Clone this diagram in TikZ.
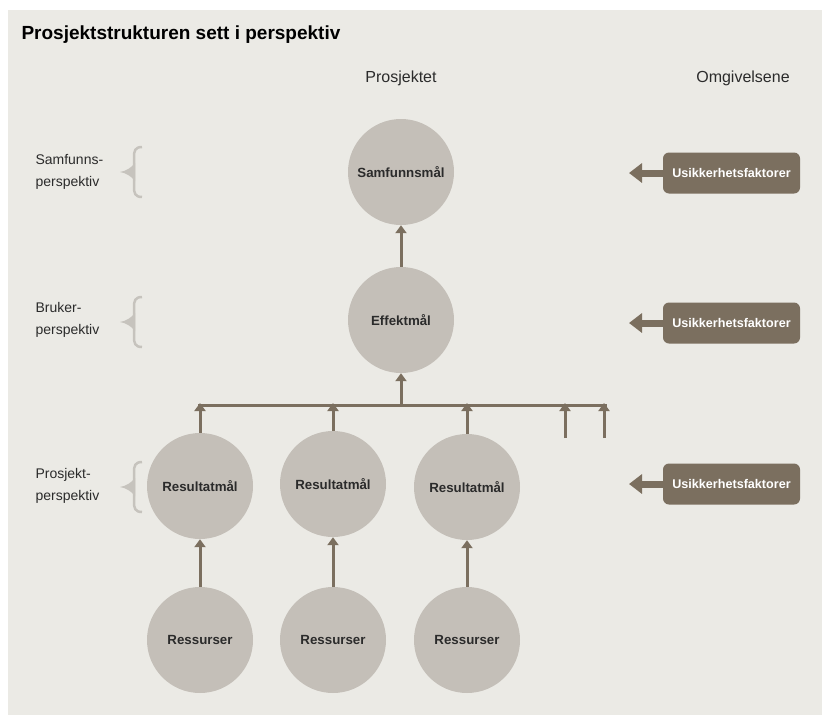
\documentclass[tikz,border=0pt]{standalone}
\usepackage{fontspec}
\setmainfont{Liberation Sans}
\usetikzlibrary{arrows.meta}
\definecolor{bg}{HTML}{EBEAE5}
\definecolor{disc}{HTML}{C4BFB8}
\definecolor{brn}{HTML}{7B6F5F}
\definecolor{brc}{HTML}{C6C3BD}
\definecolor{ink}{HTML}{2B2B2B}
\begin{document}
\begin{tikzpicture}[x=1pt,y=-1pt,
 goal/.style={circle,fill=disc,minimum size=106pt,inner sep=0pt,font=\fontsize{13.3}{15}\selectfont\bfseries,text=ink},
 risk/.style={rounded corners=6pt,fill=brn,minimum width=137pt,minimum height=41pt,font=\fontsize{12.6}{14}\selectfont\bfseries,text=white,inner sep=0pt},
 conn/.style={draw=brn,line width=3pt,-{Triangle[width=11pt,length=8pt]}},
 riskarrow/.style={draw=brn,line width=7pt,-{Triangle[width=19pt,length=13pt]}},
 persp/.style={align=left,anchor=west,font=\fontsize{14}{22}\selectfont,text=ink},
 bracestyle/.style={draw=brc,line width=2.5pt},
 head/.style={font=\fontsize{16}{18}\selectfont,text=ink}]
\useasboundingbox (0,0) rectangle (822,715);
\fill[white] (0,0) rectangle (822,715);
\fill[bg] (8,10) rectangle (822,715);

% titles
\node[anchor=west,font=\fontsize{19}{21}\selectfont\bfseries,text=black] (title) at (18,35) {Prosjektstrukturen sett i perspektiv};
\node[head] (hproj) at (401,78) {Prosjektet};
\node[head] (homg) at (743,78) {Omgivelsene};

% goals
\node[goal] (samf) at (401,172) {Samfunnsmål};
\node[goal] (eff) at (401,320) {Effektmål};
\node[goal] (r1) at (200,486) {Resultatmål};
\node[goal] (r2) at (333,484) {Resultatmål};
\node[goal] (r3) at (467,487) {Resultatmål};
\node[goal] (s1) at (200,640) {Ressurser};
\node[goal] (s2) at (333,640) {Ressurser};
\node[goal] (s3) at (467,640) {Ressurser};

% connectors
\draw[conn] (eff.north) -- (samf.south);
\coordinate (barL) at (198,405);
\coordinate (barR) at (607,405);
\draw[brn,line width=3pt] (barL) -- (barR);
\draw[conn] (eff |- barL) -- (eff.south);
\draw[conn] (r1.north) -- ([yshift=2pt]r1 |- barL);
\draw[conn] (r2.north) -- ([yshift=2pt]r2 |- barL);
\draw[conn] (r3.north) -- ([yshift=2pt]r3 |- barL);
\coordinate (x1) at (565,438);
\coordinate (x2) at (604,438);
\draw[conn] (x1) -- ([yshift=2pt]x1 |- barL);
\draw[conn] (x2) -- ([yshift=2pt]x2 |- barL);
\draw[conn] (s1.north) -- (r1.south);
\draw[conn] (s2.north) -- (r2.south);
\draw[conn] (s3.north) -- (r3.south);

% risk boxes
\node[risk] (u1) at (731.5,173) {Usikkerhetsfaktorer};
\node[risk] (u2) at (731.5,323) {Usikkerhetsfaktorer};
\node[risk] (u3) at (731.5,484) {Usikkerhetsfaktorer};
\coordinate (a1) at (629,173);
\coordinate (a2) at (629,323);
\coordinate (a3) at (629,484);
\draw[riskarrow] (u1.west) -- (a1);
\draw[riskarrow] (u2.west) -- (a2);
\draw[riskarrow] (u3.west) -- (a3);

% perspective labels
\node[persp] (p1) at (32,172) {Samfunns-\\perspektiv};
\node[persp] (p2) at (32,320) {Bruker-\\perspektiv};
\node[persp] (p3) at (32,486) {Prosjekt-\\perspektiv};

% braces
\foreach \c in {172,322,487}{
  \draw[bracestyle] (142,\c-25) .. controls (135,\c-25) and (134,\c-21) .. (134,\c-15) -- (134,\c+15) .. controls (134,\c+21) and (135,\c+25) .. (142,\c+25);
  \fill[brc] (135,\c-9) .. controls (131,\c-4) and (126,\c-1) .. (120,\c) .. controls (126,\c+1) and (131,\c+4) .. (135,\c+9) -- cycle;
}
\end{tikzpicture}
\end{document}
